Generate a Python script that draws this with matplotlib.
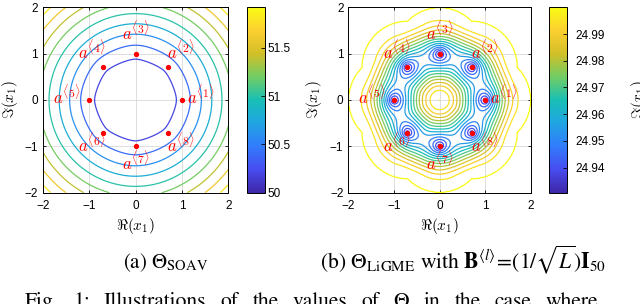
import numpy as np
import matplotlib

matplotlib.use("Agg")

import matplotlib.pyplot as plt
from matplotlib.cm import ScalarMappable
from matplotlib.colors import LinearSegmentedColormap, Normalize

# constellation points a^<k> (8-PSK on the unit circle)
point_re = [1.0, 0.7071, 0.0, -0.7071, -1.0, -0.7071, 0.0, 0.7071]
point_im = [0.0, 0.7071, 1.0, 0.7071, 0.0, -0.7071, -1.0, -0.7071]
point_names = ["1", "2", "3", "4", "5", "6", "7", "8"]

# contribution of the remaining 49 entries of x
soav_offset = 49.0
ligme_offset = 24.5

soav_levels = [50.2, 50.4, 50.6, 50.8, 51.0, 51.2, 51.4, 51.6, 51.8]
ligme_levels = [24.935, 24.94, 24.945, 24.95, 24.955, 24.96, 24.965,
                24.97, 24.975, 24.98, 24.985, 24.99, 24.995, 24.99999]

soav_ticks = [50, 50.5, 51, 51.5]
soav_ticklabels = ["50", "50.5", "51", "51.5"]
ligme_ticks = [24.94, 24.95, 24.96, 24.97, 24.98, 24.99]
ligme_ticklabels = ["24.94", "24.95", "24.96", "24.97", "24.98", "24.99"]
axis_ticks = [-2, -1, 0, 1, 2]
axis_ticklabels = ["\u22122", "\u22121", "0", "1", "2"]

caption_words = ["Fig.", "1:", "Illustrations", "of", "the", "values", "of",
                 r"$\Theta$", "in", "the", "case", "where"]

# MATLAB parula, sampled
parula = LinearSegmentedColormap.from_list("parula", [
    (0.2422, 0.1504, 0.6603),
    (0.2813, 0.3006, 0.9414),
    (0.1963, 0.4847, 0.9892),
    (0.1248, 0.6459, 0.8883),
    (0.0964, 0.7500, 0.7120),
    (0.4456, 0.8024, 0.3909),
    (0.8203, 0.7498, 0.1535),
    (0.9892, 0.8136, 0.1885),
    (0.9769, 0.9839, 0.0805),
])

# label placement (data coords) around each point
label_xy = [(1.1, -0.09, "left"), (0.68, 0.88, "left"), (0.0, 1.29, "center"),
            (-0.64, 0.88, "right"), (-1.18, -0.09, "right"), (-0.64, -1.13, "right"),
            (0.0, -1.52, "center"), (0.68, -1.13, "left")]

W, H = 640, 304


def rect(x0, y0, x1, y1):
    return [x0 / W, 1 - y1 / H, (x1 - x0) / W, (y1 - y0) / H]


grid = np.linspace(-2, 2, 161)
X, Y = np.meshgrid(grid, grid)
pts = np.array(point_re) + 1j * np.array(point_im)
dist = np.abs((X + 1j * Y)[..., None] - pts[None, None, :])
soav = soav_offset + dist.mean(axis=-1)
mc = np.where(dist < 1, dist - dist ** 2 / 2, 0.5)
ligme = ligme_offset + mc.mean(axis=-1)

fig = plt.figure(figsize=(W / 100, H / 100), dpi=100)


def panel(ax_rect, cb_rect, Z, levels, ticks, ticklabels, cb_pad):
    ax = fig.add_axes(rect(*ax_rect))
    norm = Normalize(Z.min(), Z.max())
    ax.contour(X, Y, Z, levels=levels, cmap=parula, norm=norm, linewidths=0.9)
    ax.plot(point_re, point_im, "o", color="red", markersize=2.8, zorder=5)
    for (tx, ty, ha), name in zip(label_xy, point_names):
        ax.text(tx, ty, r"$a^{\langle %s\rangle}$" % name, color="red", ha=ha, va="baseline",
                fontsize=12, math_fontfamily="cm", zorder=6)
    ax.set_xlim(-2, 2)
    ax.set_ylim(-2, 2)
    ax.set_xticks(axis_ticks, axis_ticklabels)
    ax.set_yticks(axis_ticks, axis_ticklabels)
    for lab in ax.get_xticklabels() + ax.get_yticklabels():
        lab.set_fontfamily("Liberation Sans")
        lab.set_fontsize(8.5)
    ax.tick_params(direction="in", length=2.5, width=0.6, top=True, right=True)
    ax.tick_params(axis="x", pad=5)
    ax.tick_params(axis="y", pad=3.5)
    ax.grid(color="#d8d8d8", linewidth=0.6)
    ax.set_axisbelow(True)
    for s in ax.spines.values():
        s.set_linewidth(0.7)
    ax.set_xlabel(r"$\Re(x_1)$", fontsize=11, math_fontfamily="cm", labelpad=3)

    cax = fig.add_axes(rect(*cb_rect))
    cb = fig.colorbar(ScalarMappable(norm=norm, cmap=parula), cax=cax)
    cb.set_ticks(ticks, labels=ticklabels)
    cax.tick_params(direction="in", length=3, width=0.6, pad=cb_pad)
    for lab in cax.get_yticklabels():
        lab.set_fontfamily("Liberation Sans")
        lab.set_fontsize(8.5)
    cb.outline.set_linewidth(0.7)
    return ax


panel((42.7, 7.3, 228.3, 192.7), (246.7, 7.3, 265, 192.7), soav,
      soav_levels, soav_ticks, soav_ticklabels, 2)
panel((348.3, 7.3, 531, 192.7), (549.3, 7.3, 567.3, 192.7), ligme,
      ligme_levels, ligme_ticks, ligme_ticklabels, 6)

# rotated Im(x1) labels (the outer ones are cut by the figure edges)
for xc in (10, 314, 639):
    fig.text(xc / W, 1 - 100 / H, r"$\Im(x_1)$", rotation=90, ha="center", va="center",
             fontsize=11, math_fontfamily="cm")

cap = dict(family="STIXGeneral", math_fontfamily="stix", fontsize=15, va="baseline")
fig.text(166 / W, 1 - 268 / H, r"(a) $\Theta_{\mathrm{SOAV}}$", ha="center", **cap)
fig.text(463 / W, 1 - 268 / H,
         r"(b) $\Theta_{\mathrm{LiGME}}$ with $\mathbf{B}^{\langle l\rangle}\!=\!(1/\sqrt{L})\mathbf{I}_{50}$",
         ha="center", **dict(cap, fontsize=15.6))

# figure caption, justified between x=25 and x=598, cut by the bottom edge
renderer = fig.canvas.get_renderer()
word_texts = [fig.text(0, 1 - 307 / H, w, ha="left", **dict(cap, fontsize=15.5))
              for w in caption_words]
widths = [t.get_window_extent(renderer).width for t in word_texts]
gap = (598 - 25 - sum(widths)) / (len(widths) - 1)
x = 25.0
for t, w in zip(word_texts, widths):
    t.set_x(x / W)
    x += w + gap

fig.savefig("out.png", dpi=100)
